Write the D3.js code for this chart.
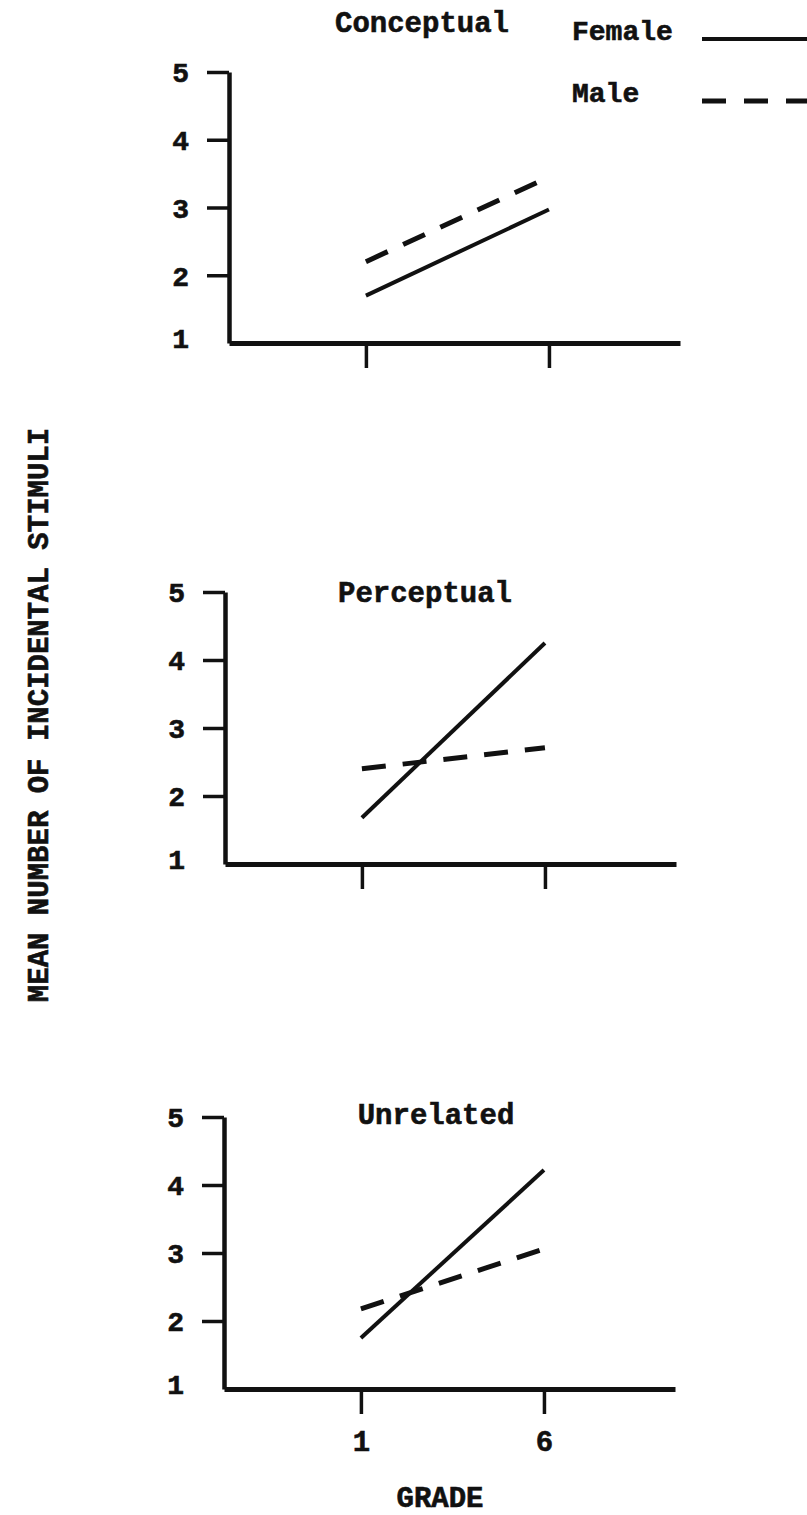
<html>
<head>
  <meta charset="utf-8">
  <title>Incidental stimuli by grade</title>
  <script src="https://d3js.org/d3.v7.min.js"></script>
  <style>
    body { margin: 0; background: #fff; }
    svg text {
      font-family: 'Liberation Mono', 'Courier New', monospace;
      font-weight: bold;
      fill: #111;
      stroke: #111;
      stroke-width: 0.6px;
    }
  </style>
</head>
<body>
<script>

  /*--- Chart Data ---*/
  var panels = ["Conceptual", "Perceptual", "Unrelated"],
    grades = [1, 6],
    gradeLabels = ["1", "6"],
    yTicks = [1, 2, 3, 4, 5],
    female = [[1.7, 2.97], [1.68, 4.25], [1.75, 4.22]],
    male = [[2.2, 3.45], [2.4, 2.71], [2.18, 3.06]],
    legendNames = ["Female", "Male"];

  /*--- Layout for each panel (axis origin, top, title) ---*/
  var layout = [
    { x: 229, top: 72,   bottom: 343,  titleX: 422, titleY: 32 },
    { x: 225, top: 592,  bottom: 864,  titleX: 425, titleY: 602 },
    { x: 224, top: 1117, bottom: 1389, titleX: 436, titleY: 1124 }
  ];

  var W = 807, H = 1515, axisLen = 451;

  var svg = d3.select("body").append("svg")
    .attr("width", W).attr("height", H);

  var x = d3.scaleLinear().domain([-2.74, 9.58]).range([0, axisLen]);

  panels.forEach(function(name, i) {
    var L = layout[i],
      y = d3.scaleLinear().domain([1, 5]).range([L.bottom, L.top]),
      g = svg.append("g");

    // y axis: ticks 2-5 as lines, labels for all
    var yAxis = g.append("g")
      .attr("transform", "translate(" + L.x + ",0)")
      .call(d3.axisLeft(y).tickValues(yTicks).tickSize(22).tickSizeOuter(0).tickPadding(18)
        .tickFormat(d3.format("d")));
    yAxis.select(".domain").attr("stroke", "#111").attr("stroke-width", 4.5);
    yAxis.selectAll(".tick line").attr("stroke", "#111").attr("stroke-width", 3.5)
      .filter(function(d) { return d === 1; }).remove();
    yAxis.selectAll(".tick text")
      .attr("font-size", 28)
      .attr("dy", function(d) { return d === 1 ? "0.15em" : "0.35em"; });

    // x axis
    var xAxis = g.append("g")
      .attr("transform", "translate(" + L.x + "," + L.bottom + ")")
      .call(d3.axisBottom(x).tickValues(grades).tickSize(25).tickSizeOuter(0).tickPadding(16)
        .tickFormat(function(d, j) { return i === panels.length - 1 ? gradeLabels[j] : ""; }));
    xAxis.select(".domain").attr("stroke", "#111").attr("stroke-width", 5);
    xAxis.selectAll(".tick line").attr("stroke", "#111").attr("stroke-width", 3.5);
    xAxis.selectAll(".tick text").attr("font-size", 29);

    // series lines
    var line = d3.line()
      .x(function(d, j) { return L.x + x(grades[j]); })
      .y(function(d) { return y(d); });

    g.append("path")
      .datum(female[i])
      .attr("d", line)
      .attr("fill", "none")
      .attr("stroke", "#111")
      .attr("stroke-width", 4);

    g.append("path")
      .datum(male[i])
      .attr("d", line)
      .attr("fill", "none")
      .attr("stroke", "#111")
      .attr("stroke-width", 5)
      .attr("stroke-dasharray", "24,17");

    // panel title
    g.append("text")
      .attr("x", L.titleX).attr("y", L.titleY)
      .attr("text-anchor", "middle")
      .attr("font-size", 29)
      .text(name);
  });

  /*--- Legend ---*/
  var legend = svg.append("g");
  legendNames.forEach(function(n, i) {
    var ly = 40 + i * 62;
    legend.append("text")
      .attr("x", 572).attr("y", ly)
      .attr("font-size", 28)
      .text(n);
    legend.append("line")
      .attr("x1", 702).attr("x2", W)
      .attr("y1", ly - 1).attr("y2", ly - 1)
      .attr("stroke", "#111")
      .attr("stroke-width", i === 0 ? 4 : 5)
      .attr("stroke-dasharray", i === 0 ? null : "24,18");
  });

  /*--- Axis titles ---*/
  svg.append("text")
    .attr("transform", "translate(48,715) rotate(-90)")
    .attr("text-anchor", "middle")
    .attr("font-size", 29)
    .text("MEAN NUMBER OF INCIDENTAL STIMULI");

  svg.append("text")
    .attr("x", 440).attr("y", 1507)
    .attr("text-anchor", "middle")
    .attr("font-size", 29)
    .text("GRADE");

</script>
</body>
</html>
